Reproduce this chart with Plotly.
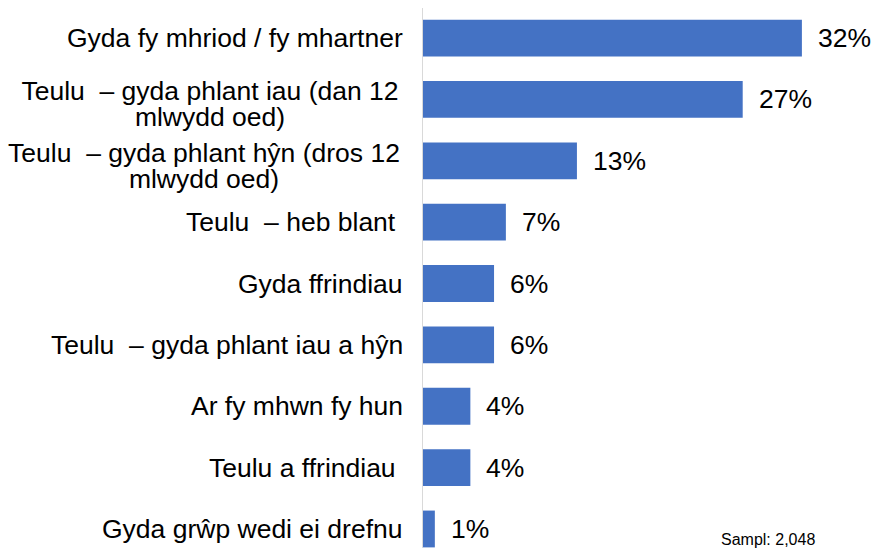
import plotly.graph_objects as go

categories = [
    "Gyda fy mhriod / fy mhartner",
    "Teulu  – gyda phlant iau (dan 12<br>mlwydd oed)",
    "Teulu  – gyda phlant hŷn (dros 12<br>mlwydd oed)",
    "Teulu  – heb blant ",
    "Gyda ffrindiau",
    "Teulu  – gyda phlant iau a hŷn",
    "Ar fy mhwn fy hun",
    "Teulu a ffrindiau ",
    "Gyda grŵp wedi ei drefnu",
]
values = [32, 27, 13, 7, 6, 6, 4, 4, 1]
value_labels = ["32%", "27%", "13%", "7%", "6%", "6%", "4%", "4%", "1%"]
sample_note = "Sampl: 2,048"

# layout helpers (style only): box widths for wrapped labels so lines centre
wrap_box = {1: 386, 2: 398}
FONT = "Liberation Sans, Arial, sans-serif"
FS = 26.5

ypos = list(range(len(categories)))

fig = go.Figure()
fig.add_trace(go.Bar(
    x=values, y=ypos, orientation="h",
    marker=dict(color="#4472C4", line=dict(width=0)),
    width=0.6, hoverinfo="skip",
))


def fix_spaces(s):
    s = s.replace("  ", " \u00a0")
    if s.endswith(" "):
        s = s[:-1] + "\u00a0"
    return s


annotations = []
for i, (y, lab) in enumerate(zip(ypos, categories)):
    lines = lab.split("<br>")
    if len(lines) == 1:
        annotations.append(dict(
            x=0, xref="paper", y=y, yref="y", text=fix_spaces(lab), showarrow=False,
            xanchor="right", yanchor="middle", align="center", xshift=-18,
            font=dict(family=FONT, size=FS, color="#000000"),
        ))
    else:
        shifts = [8, -18]
        for ln, ys in zip(lines, shifts):
            annotations.append(dict(
                x=0, xref="paper", y=y, yref="y", text=fix_spaces(ln), showarrow=False,
                xanchor="right", yanchor="middle", align="center", xshift=-18, yshift=ys,
                width=wrap_box[i],
                font=dict(family=FONT, size=FS, color="#000000"),
            ))
for y, v, t in zip(ypos, values, value_labels):
    annotations.append(dict(
        x=v, xref="x", y=y, yref="y", text=t, showarrow=False,
        xanchor="left", yanchor="middle", xshift=14,
        font=dict(family=FONT, size=FS, color="#000000"),
    ))
annotations.append(dict(
    x=1, xref="paper", y=0, yref="paper", text=sample_note, showarrow=False,
    xanchor="right", yanchor="bottom", xshift=-37, yshift=-2,
    font=dict(family=FONT, size=16, color="#000000"),
))

fig.update_layout(
    width=874, height=551,
    margin=dict(l=423, r=20, t=8, b=3),
    paper_bgcolor="white", plot_bgcolor="white",
    showlegend=False,
    annotations=annotations,
    xaxis=dict(range=[0, 36.4], visible=False, fixedrange=True),
    yaxis=dict(range=[8.31, -0.49], showticklabels=False, showgrid=False, zeroline=False,
               showline=True, linecolor="#D9D9D9", linewidth=1.5, ticks="", fixedrange=True),
)

fig.write_html("out.html", config={"displayModeBar": False, "staticPlot": True},
               post_script="document.body.style.margin='0px';")
